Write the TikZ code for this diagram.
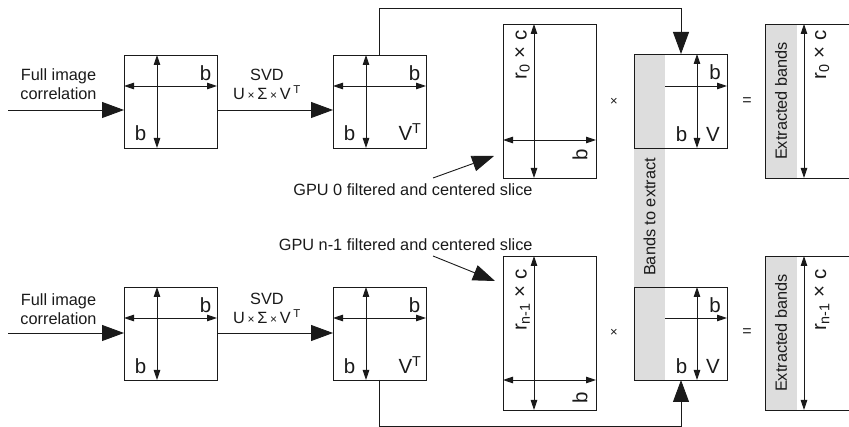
\documentclass[tikz,border=0pt]{standalone}
\usepackage{fontspec}
\setmainfont{Liberation Sans}
\usetikzlibrary{arrows.meta,calc}
\definecolor{bandgray}{HTML}{DDDDDD}
\definecolor{ink}{HTML}{1A1A1A}
\begin{document}
\begin{tikzpicture}[x=1pt,y=-1pt,
  line width=0.9pt, draw=ink,
  box/.style={draw=ink, inner sep=0pt, outer sep=0pt, minimum width=93pt, minimum height=93pt},
  band/.style={fill=bandgray, inner sep=0pt, outer sep=0pt},
  big/.style={draw=ink, -{Triangle[length=22pt,width=16pt]}},
  dbl/.style={draw=ink, {Triangle[length=10pt,width=6.5pt]}-{Triangle[length=10pt,width=6.5pt]}},
  sgl/.style={draw=ink, -{Triangle[length=10pt,width=6.5pt]}},
  lb/.style={inner sep=0pt, text=ink, font=\fontsize{20.5}{24}\selectfont},
  tx/.style={inner sep=0pt, text=ink, font=\fontsize{16.3}{19}\selectfont, align=center},
  op/.style={inner sep=0pt, text=ink, font=\fontsize{13}{13}\selectfont},
  eq/.style={inner sep=0pt, text=ink, font=\fontsize{16}{16}\selectfont},
]
\useasboundingbox (0,0) rectangle (849,427);

% ---------- grey band strip ----------
\node[band, minimum width=31pt, minimum height=326pt] (S) at (649.5,217) {};
\node[tx, rotate=90] (St) at (649.5,217) {Bands to extract};

% ---------- top row ----------
\node[box] (A1) at (170.5,101.5) {};
\node[box] (A2) at (379.5,101.5) {};
\node[box, minimum height=154pt] (T1) at (549.5,101) {};
\node[box, minimum height=94pt] (V1) at (680.5,101) {};
\node[band, minimum width=32pt, minimum height=154pt, anchor=north west] (E1) at (765,24) {};
\draw ($(E1.north west)+(90,0)$) -- (E1.north west) -- (E1.south west) -- ($(E1.south west)+(90,0)$);

\node[tx] (fi1) at (58.5,84) {Full image\\correlation};
\node[tx] (svd1) at (267,84.5) {SVD\\U\,{\fontsize{12}{12}\selectfont ×}\,Σ\,{\fontsize{12}{12}\selectfont ×}\,V\,\textsuperscript{T}};

\coordinate (in1) at (8,110);
\draw[big] (in1) -- (in1 -| A1.west);
\draw[big] (A1.east |- in1) -- (A2.west |- in1);
\coordinate (tp) at (681,8);
\draw[big] (A2.north) |- (tp) -- (V1.north -| tp);

% A1 internals
\draw[dbl] ($(A1.north west)+(33,0)$) -- ($(A1.south west)+(33,0)$);
\draw[dbl] ($(A1.north west)+(0,31)$) -- ($(A1.north east)+(0,31)$);
\node[lb] (A1b1) at ($(A1.north west)+(81.5,18)$) {b};
\node[lb] (A1b2) at ($(A1.north west)+(16.5,78)$) {b};
% A2 internals
\draw[dbl] ($(A2.north west)+(33,0)$) -- ($(A2.south west)+(33,0)$);
\draw[dbl] ($(A2.north west)+(0,31)$) -- ($(A2.north east)+(0,31)$);
\node[lb] (A2b1) at ($(A2.north west)+(81.5,18)$) {b};
\node[lb] (A2b2) at ($(A2.north west)+(16.5,78)$) {b};
\node[lb] (A2v) at ($(A2.north west)+(77,77)$) {V\textsuperscript{T}};
% T1 internals
\draw[dbl] ($(T1.north west)+(31,0)$) -- ($(T1.south west)+(31,0)$);
\draw[dbl] ($(T1.north west)+(0,116)$) -- ($(T1.north east)+(0,116)$);
\node[lb, rotate=90] (T1r) at (522.5,55) {r\textsubscript{0} × c};
\node[lb, rotate=90] (T1b) at (580,155) {b};
% V1 internals
\draw[dbl] ($(V1.north west)+(63,0)$) -- ($(V1.south west)+(63,0)$);
\draw[sgl] ($(V1.north west)+(31,32)$) -- ($(V1.north east)+(0,32)$);
\node[lb] (V1b1) at ($(V1.north west)+(81,18)$) {b};
\node[lb] (V1b2) at ($(V1.north west)+(47.5,80)$) {b};
\node[lb] (V1v) at ($(V1.north west)+(79,80)$) {V};
% E1 internals
\draw[dbl] ($(E1.north east)+(7,0)$) -- ($(E1.south east)+(7,0)$);
\node[tx, rotate=90] (E1t) at (781,101) {Extracted bands};
\node[lb, rotate=90] (E1r) at (822,55) {r\textsubscript{0} × c};

\node[op] (x1) at (614,102) {×};
\node[eq] (q1) at (747,102) {=};

\node[tx, anchor=east] (g0) at (533,190) {GPU 0 filtered and centered slice};
\coordinate (g0s) at (433,178);
\coordinate (g0t) at (494,156);
\draw[big] (g0s) -- (g0t);

% ---------- bottom row ----------
\node[box] (B1) at (170.5,333.5) {};
\node[box] (B2) at (379.5,333.5) {};
\node[box, minimum height=154pt] (T2) at (549.5,333) {};
\node[box] (V2) at (680.5,333.5) {};
\node[band, minimum width=32pt, minimum height=154pt, anchor=north west] (E2) at (765,256) {};
\draw ($(E2.north west)+(90,0)$) -- (E2.north west) -- (E2.south west) -- ($(E2.south west)+(90,0)$);

\node[tx] (fi2) at (58.5,309) {Full image\\correlation};
\node[tx] (svd2) at (267,308.5) {SVD\\U\,{\fontsize{12}{12}\selectfont ×}\,Σ\,{\fontsize{12}{12}\selectfont ×}\,V\,\textsuperscript{T}};

\coordinate (in2) at (8,333);
\draw[big] (in2) -- (in2 -| B1.west);
\draw[big] (B1.east |- in2) -- (B2.west |- in2);
\coordinate (bt) at (681,426);
\draw[big] (B2.south) |- (bt) -- (V2.south -| bt);

% B1 internals
\draw[dbl] ($(B1.north west)+(33,0)$) -- ($(B1.south west)+(33,0)$);
\draw[dbl] ($(B1.north west)+(0,31)$) -- ($(B1.north east)+(0,31)$);
\node[lb] (B1b1) at ($(B1.north west)+(81.5,18)$) {b};
\node[lb] (B1b2) at ($(B1.north west)+(16.5,79)$) {b};
% B2 internals
\draw[dbl] ($(B2.north west)+(33,0)$) -- ($(B2.south west)+(33,0)$);
\draw[dbl] ($(B2.north west)+(0,31)$) -- ($(B2.north east)+(0,31)$);
\node[lb] (B2b1) at ($(B2.north west)+(81.5,18)$) {b};
\node[lb] (B2b2) at ($(B2.north west)+(16.5,79)$) {b};
\node[lb] (B2v) at ($(B2.north west)+(77,78)$) {V\textsuperscript{T}};
% T2 internals
\draw[dbl] ($(T2.north west)+(31,0)$) -- ($(T2.south west)+(31,0)$);
\draw[dbl] ($(T2.north west)+(0,124)$) -- ($(T2.north east)+(0,124)$);
\node[lb, rotate=90] (T2r) at (522.5,300) {r\textsubscript{n-1} × c};
\node[lb, rotate=90] (T2b) at (580,398) {b};
% V2 internals
\draw[dbl] ($(V2.north west)+(63,0)$) -- ($(V2.south west)+(63,0)$);
\draw[sgl] ($(V2.north west)+(31,31)$) -- ($(V2.north east)+(0,31)$);
\node[lb] (V2b1) at ($(V2.north west)+(81,18)$) {b};
\node[lb] (V2b2) at ($(V2.north west)+(47.5,79)$) {b};
\node[lb] (V2v) at ($(V2.north west)+(79,79)$) {V};
% E2 internals
\draw[dbl] ($(E2.north east)+(7,0)$) -- ($(E2.south east)+(7,0)$);
\node[tx, rotate=90] (E2t) at (781,333) {Extracted bands};
\node[lb, rotate=90] (E2r) at (822,300) {r\textsubscript{n-1} × c};

\node[op] (x2) at (614,333) {×};
\node[eq] (q2) at (747,333) {=};

\node[tx, anchor=east] (g1) at (533,245) {GPU n-1 filtered and centered slice};
\coordinate (g1s) at (433,256);
\coordinate (g1t) at (495,281);
\draw[big] (g1s) -- (g1t);
\end{tikzpicture}
\end{document}
